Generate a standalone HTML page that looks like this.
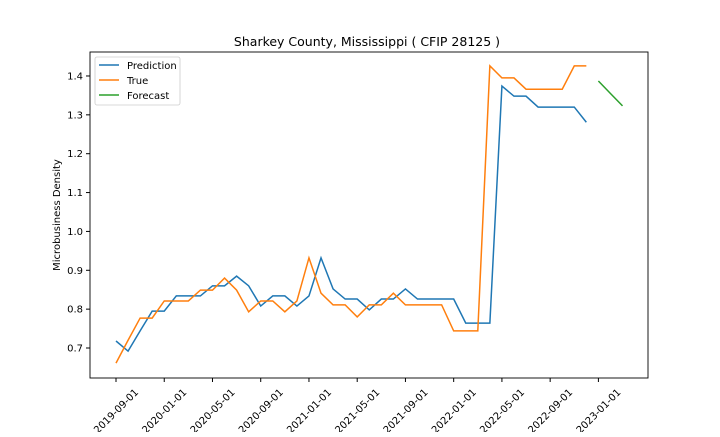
<!DOCTYPE html>
<html><head><meta charset="utf-8"><style>
body{margin:0;background:#fff;}
svg text{font-family:"DejaVu Sans","Liberation Sans",sans-serif;fill:#000;}
</style></head><body>
<svg id="chart" width="720" height="432" viewBox="0 0 720 432">
<rect width="720" height="432" fill="#fff"/>
<text x="367" y="46" font-size="12.5" text-anchor="middle">Sharkey County, Mississippi ( CFIP 28125 )</text>
<text transform="translate(60,215) rotate(-90)" font-size="10" text-anchor="middle">Microbusiness Density</text>
<g id="yticks"></g><g id="xticks"></g><g id="series"></g>
<rect x="90" y="52" width="558" height="326" fill="none" stroke="#000" stroke-width="0.9"/>
<g>
<rect x="95" y="57" width="85" height="48" rx="2" fill="#fff" fill-opacity="0.8" stroke="#ccc" stroke-width="0.8"/>
<g><line x1="99" y1="65" x2="119" y2="65" stroke="#1f77b4" stroke-width="1.5"/><text x="127" y="69" font-size="10">Prediction</text></g>
<g><line x1="99" y1="80" x2="119" y2="80" stroke="#ff7f0e" stroke-width="1.5"/><text x="127" y="84" font-size="10">True</text></g>
<g><line x1="99" y1="95" x2="119" y2="95" stroke="#2ca02c" stroke-width="1.5"/><text x="127" y="99" font-size="10">Forecast</text></g>
</g>
</svg>
<script>
const predMonths=[0,1,2,3,4,5,6,7,8,9,10,11,12,13,14,15,16,17,18,19,20,21,22,23,24,25,26,27,28,29,30,31,32,33,34,35,36,37,38,39];
const predValues=[0.718,0.692,0.744,0.795,0.795,0.834,0.834,0.834,0.86,0.86,0.885,0.86,0.808,0.834,0.834,0.808,0.834,0.932,0.852,0.826,0.826,0.798,0.826,0.826,0.852,0.826,0.826,0.826,0.826,0.764,0.764,0.764,1.374,1.348,1.348,1.32,1.32,1.32,1.32,1.281];
const trueValues=[0.661,0.72,0.777,0.777,0.821,0.821,0.821,0.849,0.849,0.88,0.849,0.793,0.821,0.821,0.793,0.821,0.932,0.841,0.811,0.811,0.78,0.811,0.811,0.841,0.811,0.811,0.811,0.811,0.744,0.744,0.744,1.426,1.395,1.395,1.366,1.366,1.366,1.366,1.426,1.426];
const fcMonths=[40,41,42];
const fcValues=[1.387,1.355,1.323];
const yTicks=[0.7,0.8,0.9,1.0,1.1,1.2,1.3,1.4];
const xTickMonths=[0,4,8,12,16,20,24,28,32,36,40];
const xTickLabels=["2019-09-01","2020-01-01","2020-05-01","2020-09-01","2021-01-01","2021-05-01","2021-09-01","2022-01-01","2022-05-01","2022-09-01","2023-01-01"];
const NS="http://www.w3.org/2000/svg";
const xs=m=>116+m*12.06;
const ys=v=>348-(v-0.7)*388.6;
const yt=document.getElementById('yticks');
yTicks.forEach(v=>{
 const y=ys(v);
 const l=document.createElementNS(NS,'line');
 l.setAttribute('x1',86);l.setAttribute('x2',90);l.setAttribute('y1',y);l.setAttribute('y2',y);l.setAttribute('stroke','#000');
 
 
 yt.appendChild(l);
 const t=document.createElementNS(NS,'text');
 t.setAttribute('x',83);t.setAttribute('y',y+3.5);t.setAttribute('font-size','10');t.setAttribute('text-anchor','end');
 t.textContent=v.toFixed(1);
 
 
 yt.appendChild(t);
});
const xt=document.getElementById('xticks');
xTickMonths.forEach((m,i)=>{
 const x=xs(m);
 const l=document.createElementNS(NS,'line');
 l.setAttribute('x1',x);l.setAttribute('x2',x);l.setAttribute('y1',378);l.setAttribute('y2',382);l.setAttribute('stroke','#000');
 
 
 xt.appendChild(l);
 const t=document.createElementNS(NS,'text');
 t.setAttribute('x',0);t.setAttribute('y',0);t.setAttribute('font-size','10');t.setAttribute('text-anchor','middle');
 t.setAttribute('transform','translate('+(x)+',411) rotate(-45) translate(0,3.5)');
 t.textContent=xTickLabels[i];
 
 
 xt.appendChild(t);
});
const sg=document.getElementById('series');
function line(months,vals,color,name){
 const p=document.createElementNS(NS,'polyline');
 p.setAttribute('points',months.map((m,i)=>xs(m)+','+ys(vals[i])).join(' '));
 p.setAttribute('fill','none');p.setAttribute('stroke',color);p.setAttribute('stroke-width','1.5');
 
 
 sg.appendChild(p);
}
line(predMonths,predValues,'#1f77b4','prediction-line');
line(predMonths,trueValues,'#ff7f0e','true-line');
line(fcMonths,fcValues,'#2ca02c','forecast-line');
</script>
</body></html>
